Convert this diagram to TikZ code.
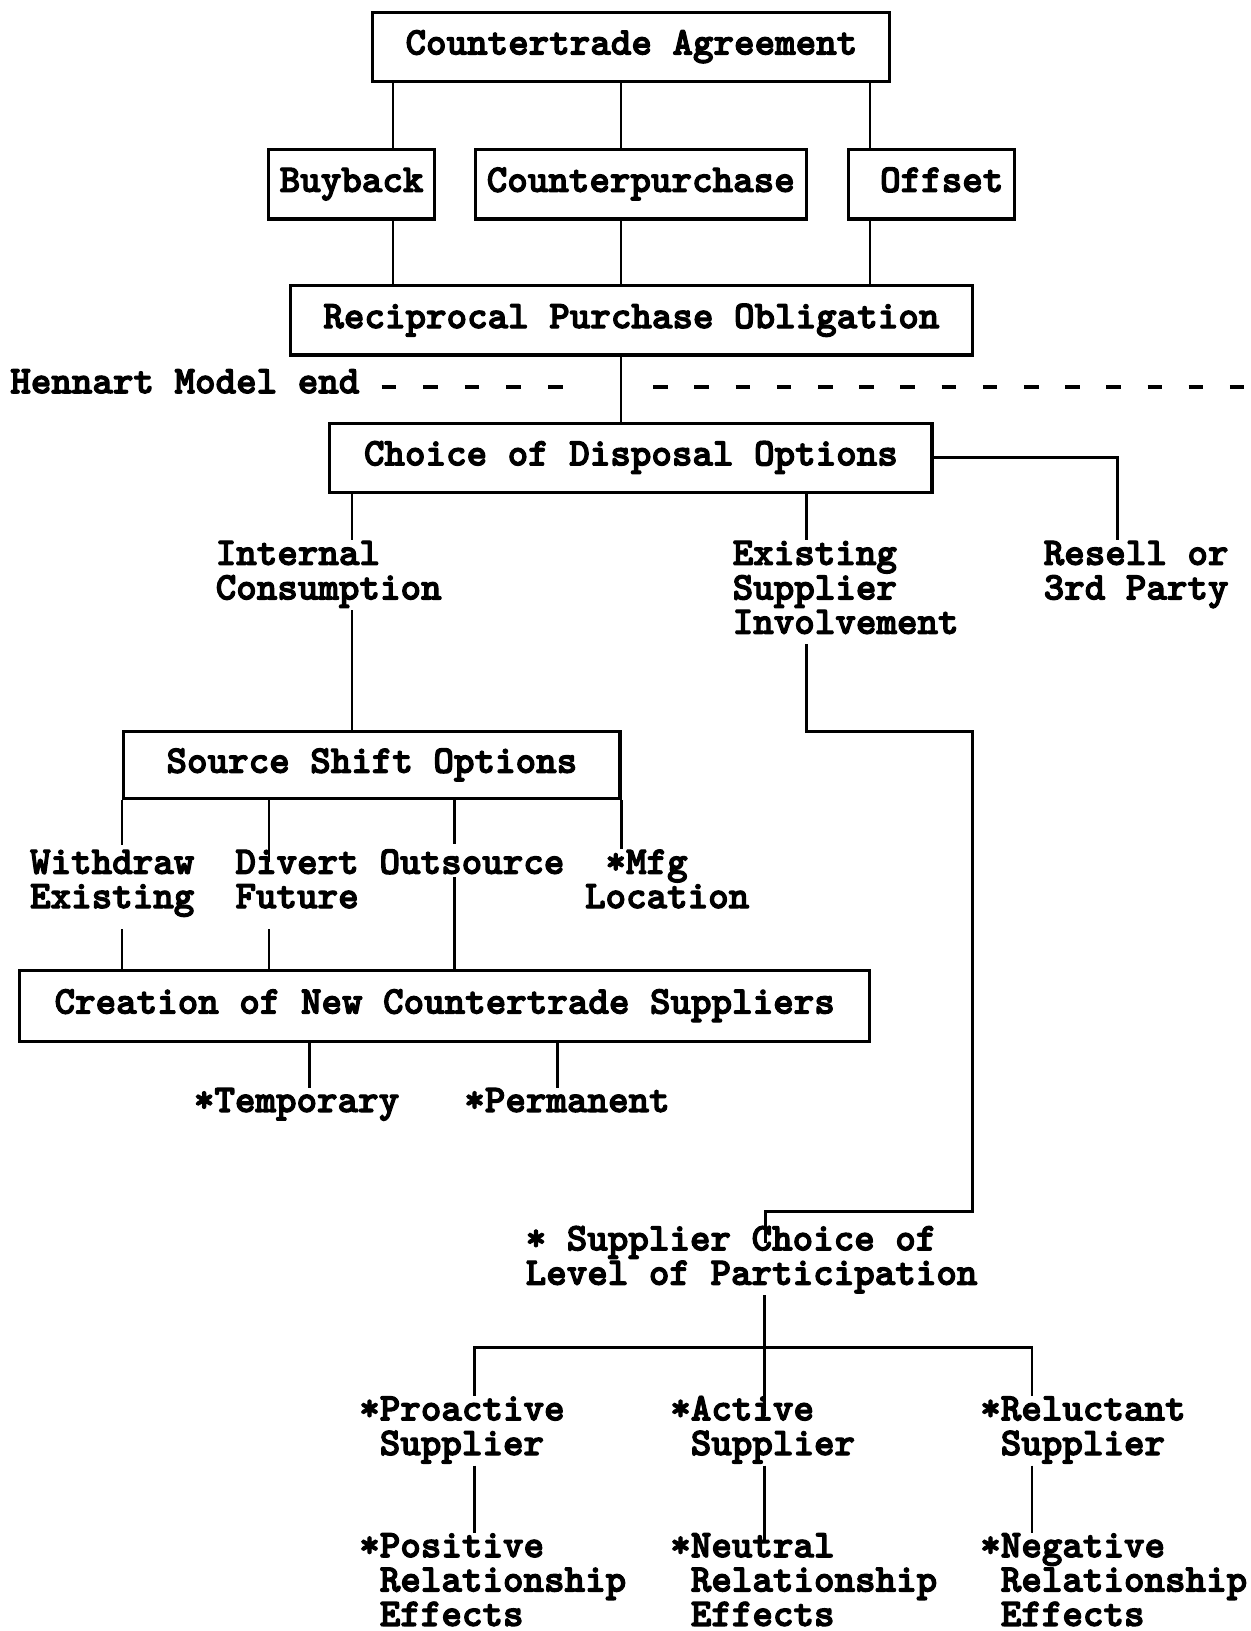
\documentclass[tikz,border=0pt]{standalone}
\usepackage{fontspec}
\newfontfamily\typerfont{lmmonolt10-bold.otf}[FakeBold=3]
\newcommand\lblrows[1]{\begin{tabular}[t]{@{}l@{}}#1\end{tabular}}
\begin{document}
\begin{tikzpicture}[x=0.5pt,y=-0.5pt,
  every node/.style={font=\typerfont\fontsize{18.8pt}{16.5pt}\selectfont, inner sep=0pt},
  box/.style={draw, line width=1.5pt, text height=11.6pt, text depth=4.2pt},
  lbl/.style={anchor=base west},
  link/.style={line width=1.2pt},
  modelend/.style={line width=2.2pt, dash pattern=on 7pt off 13pt}]
\useasboundingbox (0,0) rectangle (1202,1568);

% column positions of the connectors
\coordinate (xb) at (378,0);
\coordinate (xc) at (597,0);
\coordinate (xf) at (836.5,0);
\coordinate (xi) at (338.5,0);
\coordinate (xe) at (775.5,0);
\coordinate (xr) at (1074.5,0);
\coordinate (xd) at (258.5,0);
\coordinate (xs) at (437,0);
\coordinate (xt) at (297.5,0);
\coordinate (xp) at (536,0);
\coordinate (xl) at (456,0);
\coordinate (xn) at (992,0);
\coordinate (bendA) at (935,703);
\coordinate (bendB) at (736,1164.5);
\coordinate (hub) at (735,1295.5);

% boxes
\node[box, minimum width=248.5pt, minimum height=33pt] (agr) at (607,45) {Countertrade Agreement};
\node[box, minimum width=79.5pt, minimum height=33.5pt] (buy) at (338,177) {Buyback};
\node[box, minimum width=159pt, minimum height=33.5pt] (cpu) at (616,177) {Counterpurchase};
\node[box, minimum width=80pt, minimum height=33.5pt] (off) at (895.5,177) {\ Offset};
\node[box, minimum width=328pt, minimum height=33.25pt] (rpo) at (607,308) {Reciprocal Purchase Obligation};
\node[box, minimum width=289.5pt, minimum height=33.25pt] (cdo) at (606.5,440) {Choice of Disposal Options};
\node[box, minimum width=238.5pt, minimum height=32.5pt] (sso) at (357.5,735.5) {Source Shift Options\ };
\node[box, minimum width=408.5pt, minimum height=34pt] (cns) at (427.5,967) {Creation of New Countertrade Suppliers};

% free labels
\node[lbl] (hen) at (9.5,378) {Hennart Model end};
\node[lbl] (int) at (207,543) {\lblrows{Internal\\Consumption}};
\node[lbl] (esi) at (704,543) {\lblrows{Existing\\Supplier\\Involvement}};
\node[lbl] (res) at (1003,543) {\lblrows{Resell or\\3rd Party}};
\node[lbl] (wdr) at (28.5,840) {\lblrows{Withdraw\\Existing}};
\node[lbl] (dvt) at (226,840) {\lblrows{Divert\\Future}};
\node[lbl] (out) at (364.5,840) {Outsource};
\node[lbl] (mfg) at (562,840) {\lblrows{\hphantom{L}*Mfg\\Location}};
\node[lbl] (tmp) at (186,1069) {*Temporary};
\node[lbl] (prm) at (446,1069) {*Permanent};
\node[lbl] (scl) at (505,1202) {\lblrows{* Supplier Choice of\\Level of Participation}};
\node[lbl] (pro) at (345,1365.5) {\lblrows{*Proactive\\\hphantom{*}Supplier}};
\node[lbl] (act) at (644,1365.5) {\lblrows{*Active\\\hphantom{*}Supplier}};
\node[lbl] (rel) at (942,1365.5) {\lblrows{*Reluctant\\\hphantom{*}Supplier}};
\node[lbl] (pos) at (345,1497) {\lblrows{*Positive\\\hphantom{*}Relationship\\\hphantom{*}Effects}};
\node[lbl] (neu) at (644,1497) {\lblrows{*Neutral\\\hphantom{*}Relationship\\\hphantom{*}Effects}};
\node[lbl] (neg) at (942,1497) {\lblrows{*Negative\\\hphantom{*}Relationship\\\hphantom{*}Effects}};

% end of the Hennart model
\draw[modelend] ([shift={(10.5pt,3pt)}]hen.base east) -- ++(180,0);
\draw[modelend, dash pattern=on 7pt off 12.8pt] (628,372) -- (1202,372);

% agreement types
\draw[link] (agr.south -| xb) -- (buy.north -| xb);
\draw[link] (agr.south -| xc) -- (cpu.north -| xc);
\draw[link] (agr.south -| xf) -- (off.north -| xf);
\draw[link] (buy.south -| xb) -- (rpo.north -| xb);
\draw[link] (cpu.south -| xc) -- (rpo.north -| xc);
\draw[link] (off.south -| xf) -- (rpo.north -| xf);
\draw[link] (rpo.south -| xc) -- (cdo.north -| xc);

% disposal options
\draw[link] (cdo.east) -| (res.north -| xr);
\draw[link] (cdo.south -| xi) -- (int.north -| xi);
\draw[link] (cdo.south -| xe) -- (esi.north -| xe);
\draw[link] (int.south -| xi) -- (sso.north -| xi);
\draw[link] (esi.south -| xe) |- (bendA) |- (bendB) -- ([yshift=-8.5pt]scl.north -| bendB);

% source shift options
\draw[link] (sso.south west) -- ([yshift=2pt]wdr.north -| sso.south west);
\draw[link] (sso.south -| xd) -- ([yshift=-6pt]dvt.north -| xd);
\draw[link] (sso.south -| xs) -- ([yshift=2.5pt]out.north -| xs);
\draw[link] (sso.south east) -- (mfg.north -| sso.south east);
\draw[link] ([yshift=-5pt]wdr.south -| sso.south west) -- (cns.north -| sso.south west);
\draw[link] ([yshift=-5pt]dvt.south -| xd) -- (cns.north -| xd);
\draw[link] ([yshift=-1.5pt]out.base -| xs) -- (cns.north -| xs);
\draw[link] (cns.south -| xt) -- (tmp.north -| xt);
\draw[link] (cns.south -| xp) -- (prm.north -| xp);

% supplier participation
\draw[link] (scl.south -| hub) -- (hub);
\draw[link] (pro.north -| xl) |- (hub) -| (rel.north -| xn);
\draw[link] (hub) -- ([yshift=-10pt]act.north -| hub);
\draw[link] (pro.south -| xl) -- (pos.north -| xl);
\draw[link] (act.south -| hub) -- ([yshift=-5pt]neu.north -| hub);
\draw[link] (rel.south -| xn) -- (neg.north -| xn);
\end{tikzpicture}
\end{document}
